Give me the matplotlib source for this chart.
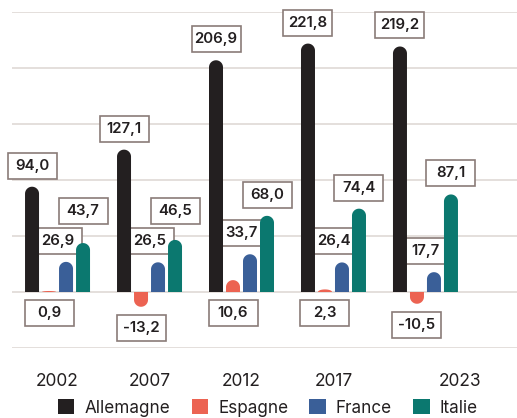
import numpy as np
import matplotlib.pyplot as plt
from matplotlib.path import Path
from matplotlib.patches import PathPatch, Rectangle, Patch

plt.rcParams['font.family'] = ['Inter', 'DejaVu Sans']

# données (milliards)
years = ['2002', '2007', '2012', '2017', '2023']
allemagne = [94.0, 127.1, 206.9, 221.8, 219.2]
espagne = [0.9, -13.2, 10.6, 2.3, -10.5]
france = [26.9, 26.5, 33.7, 26.4, 17.7]
italie = [43.7, 46.5, 68.0, 74.4, 87.1]

series = [('Allemagne', allemagne, '#231f20'),
          ('Espagne', espagne, '#ec6352'),
          ('France', france, '#3a5f98'),
          ('Italie', italie, '#0b786f')]

W, H = 517, 418
fig = plt.figure(figsize=(W / 100, H / 100), dpi=100)
ax_l, ax_r, ax_t, ax_b = 12, 517, 12, 348
ax = fig.add_axes([ax_l / W, (H - ax_b) / H, (ax_r - ax_l) / W, (ax_b - ax_t) / H])
xlim = (-0.495, 4.995)
ylim = (-50, 250)
ax.set_xlim(*xlim)
ax.set_ylim(*ylim)

# taille d'un pixel en unités de données
px_x = (ax_r - ax_l) / (xlim[1] - xlim[0])
px_y = (ax_b - ax_t) / (ylim[1] - ylim[0])

for yg in np.arange(-50, 251, 50):
    ax.axhline(yg, color='#ddd6d2', lw=1.1, zorder=0)

bar_w = 14 / px_x
step = 17 / px_x
offsets = (np.arange(4) - 1.5) * step
x = np.arange(len(years))


def rounded_bar(xc, v, color):
    # barre avec extrémité arrondie (demi-ellipse vue comme un cercle)
    hw = bar_w / 2
    h_px = abs(v) * px_y
    r_px = min(7.0, h_px)
    ry = r_px / px_y * np.sign(v if v != 0 else 1)
    base = v - ry
    t = np.linspace(np.pi, 0, 30)
    arc_x = xc + hw * np.cos(t)
    arc_y = base + ry * np.sin(t)
    verts = [(xc - hw, 0)] + list(zip(arc_x, arc_y)) + [(xc + hw, 0), (xc - hw, 0)]
    codes = [Path.MOVETO] + [Path.LINETO] * (len(verts) - 2) + [Path.CLOSEPOLY]
    ax.add_patch(PathPatch(Path(verts, codes), facecolor=color, edgecolor='none', zorder=3))


for k, (name, vals, col) in enumerate(series):
    for i, v in enumerate(vals):
        rounded_bar(x[i] + offsets[k], v, col)

box_w = 49 / px_x
box_h = 26 / px_y
gap = 21 / px_y


def label(xc, yc, v):
    ax.add_patch(Rectangle((xc - box_w / 2, yc - box_h / 2), box_w, box_h,
                           facecolor='white', edgecolor='#8a7b78', lw=1.2,
                           zorder=2, clip_on=False))
    txt = f'{v:.1f}'.replace('.', ',')
    ax.text(xc, yc, txt, ha='center', va='center', fontsize=10.8,
            fontweight='semibold', color='#231f20', zorder=2.5, clip_on=False)


for i in range(len(years)):
    # Allemagne : au-dessus de la barre
    label(x[i] + offsets[0], allemagne[i] + gap, allemagne[i])
    # Espagne : sous la ligne zéro
    label(x[i] + offsets[1], min(espagne[i], 0) - gap, espagne[i])
    # France : centrée sur le groupe
    fy = france[i] + gap
    label(x[i], fy, france[i])
    # Italie : remontée si elle chevauche l'étiquette France
    iy = italie[i] + gap
    lim = fy + box_h + 4 / px_y
    if iy < lim:
        iy = lim
    label(x[i] + offsets[3], iy, italie[i])

tick_pos = x.astype(float)
tick_pos[-1] += 0.375
ax.set_xticks(tick_pos)
ax.set_xticklabels(years, fontsize=12.5, color='#231f20')
ax.tick_params(axis='x', length=0, pad=18)
ax.set_yticks([])
for s in ax.spines.values():
    s.set_visible(False)

handles = [Patch(facecolor=c, edgecolor='none', label=n) for n, _, c in series]
leg = fig.legend(handles=handles, loc='center', bbox_to_anchor=(268 / W, 1 - 408 / H),
                 ncol=4, frameon=False, prop={'size': 12.3},
                 handlelength=0.95, handleheight=0.95,
                 handletextpad=0.6, columnspacing=1.25, labelcolor='#231f20')

fig.savefig('out.png', dpi=100)
